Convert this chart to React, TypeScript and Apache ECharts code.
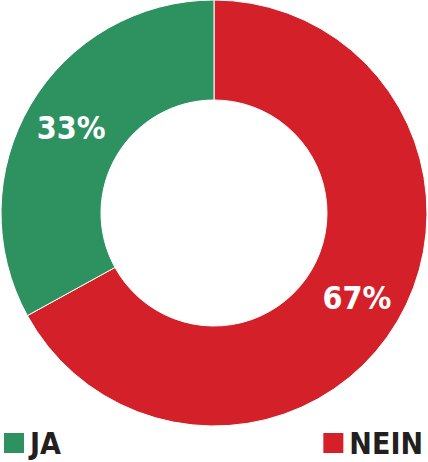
import React, { useEffect, useRef } from "react";
import * as echarts from "echarts";

const categories = ["NEIN", "JA"];
const values = [67, 33];
const colors = ["#d42129", "#2e9160"];

export default function App() {
  const ref = useRef<HTMLDivElement>(null);
  useEffect(() => {
    document.body.style.margin = "0";
    const chart = echarts.init(ref.current!, null, { renderer: "svg" });
    const font = "'DejaVu Sans Condensed', 'DejaVu Sans', sans-serif";
    const legendText = {
      fontFamily: font,
      fontSize: 30,
      fontWeight: "bold",
      color: "#231f20",
      lineHeight: 24,
    };
    chart.setOption({
      animation: false,
      color: colors,
      legend: [
        {
          data: ["JA"],
          left: 2,
          top: 428,
          padding: 0,
          icon: "rect",
          itemWidth: 22,
          itemHeight: 22,
          itemGap: 10,
          textStyle: legendText,
        },
        {
          data: ["NEIN"],
          right: 5,
          top: 428,
          padding: 0,
          icon: "rect",
          itemWidth: 22,
          itemHeight: 22,
          itemGap: 10,
          textStyle: legendText,
        },
      ],
      series: [
        {
          type: "pie",
          center: [214, 213],
          radius: [113, 213],
          startAngle: 90,
          clockwise: true,
          itemStyle: { borderColor: "#ffffff", borderWidth: 1 },
          label: {
            show: true,
            position: "inside",
            formatter: "{c}%",
            color: "#ffffff",
            fontFamily: font,
            fontSize: 32,
            fontWeight: "bold",
          },
          labelLine: { show: false },
          emphasis: { disabled: true },
          data: categories.map((c, i) => ({ name: c, value: values[i] })),
        },
      ],
    });
    return () => chart.dispose();
  }, []);
  return <div ref={ref} style={{ width: 428, height: 462 }} />;
}
